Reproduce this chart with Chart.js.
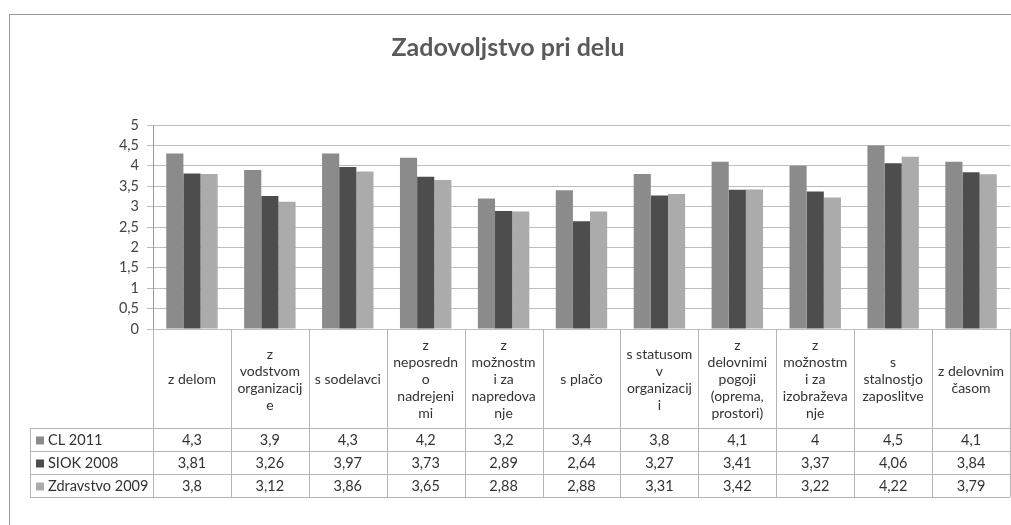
<!DOCTYPE html>
<html lang="sl">
<head>
<meta charset="UTF-8">
<title>Zadovoljstvo pri delu</title>
<script src="https://cdn.jsdelivr.net/npm/chart.js"></script>
<style>
  html,body{margin:0;padding:0;background:#fff}
  #wrap{width:1011px;height:525px;position:relative}
</style>
</head>
<body>
<div id="wrap"><canvas id="chart" width="1011" height="525"></canvas></div>
<script>
/* ---- podatki ---- */
const categories = [
  ['z delom'],
  ['z','vodstvom','organizacij','e'],
  ['s sodelavci'],
  ['z','neposredn','o','nadrejeni','mi'],
  ['z','možnostm','i za','napredova','nje'],
  ['s plačo'],
  ['s statusom','v','organizacij','i'],
  ['z','delovnimi','pogoji','(oprema,','prostori)'],
  ['z','možnostm','i za','izobraževa','nje'],
  ['s','stalnostjo','zaposlitve'],
  ['z delovnim','časom']
];
const seriesNames = ['CL 2011', 'SIOK 2008', 'Zdravstvo 2009'];
const cl2011    = [4.3, 3.9, 4.3, 4.2, 3.2, 3.4, 3.8, 4.1, 4, 4.5, 4.1];
const siok2008  = [3.81, 3.26, 3.97, 3.73, 2.89, 2.64, 3.27, 3.41, 3.37, 4.06, 3.84];
const zdrav2009 = [3.8, 3.12, 3.86, 3.65, 2.88, 2.88, 3.31, 3.42, 3.22, 4.22, 3.79];
const yTicks = [0, 0.5, 1, 1.5, 2, 2.5, 3, 3.5, 4, 4.5, 5];

const colors = ['#8b8b8b', '#4d4d4d', '#ababab'];
const FONT = 'Lato, "Liberation Sans", sans-serif';
const fmt = v => String(v).replace('.', ',');

/* ---- naslov, okvir in podatkovna tabela ---- */
const tablePlugin = {
  id: 'tablePlugin',
  beforeDraw(chart){
    const c = chart.ctx;
    c.save();
    c.fillStyle = '#fff';
    c.fillRect(0, 0, chart.width, chart.height);
    c.strokeStyle = '#9a9a9a';
    c.lineWidth = 1;
    c.strokeRect(9.5, 14.5, chart.width + 20, chart.height + 20);
    c.restore();
  },
  afterDraw(chart){
    const c = chart.ctx;
    const x = chart.scales.x;
    const area = chart.chartArea;
    const n = categories.length;
    const w = (area.right - area.left) / n;
    const top = area.bottom;
    const headBottom = top + 99;
    const rowH = 23;
    const bottom = headBottom + rowH * 3;
    const legLeft = 30;

    c.save();
    // naslov
    c.fillStyle = '#5a5a5a';
    c.font = 'bold 25px ' + FONT;
    c.textAlign = 'center';
    c.textBaseline = 'middle';
    c.fillText('Zadovoljstvo pri delu', 508, 48);

    // mreža tabele
    c.strokeStyle = '#b5b5b5';
    c.lineWidth = 1;
    c.beginPath();
    for(let i = 0; i <= n; i++){
      const px = Math.round(area.left + i * w) + 0.5;
      c.moveTo(px, top); c.lineTo(px, bottom);
    }
    for(let r = 0; r <= 3; r++){
      const py = headBottom + r * rowH + 0.5;
      c.moveTo(legLeft, py); c.lineTo(area.right, py);
    }
    c.moveTo(legLeft + 0.5, headBottom); c.lineTo(legLeft + 0.5, bottom);
    c.stroke();

    // glave stolpcev
    c.fillStyle = '#333';
    c.font = '14px ' + FONT;
    const lh = 17;
    const midHead = (top + headBottom) / 2 + 1;
    categories.forEach((lines, i) => {
      const cx = x.getPixelForValue(i);
      const y0 = midHead - (lines.length - 1) * lh / 2;
      lines.forEach((t, k) => c.fillText(t, cx, y0 + k * lh));
    });

    // vrstice z vrednostmi
    const rows = [cl2011, siok2008, zdrav2009];
    c.font = '14.5px ' + FONT;
    rows.forEach((vals, r) => {
      const cy = headBottom + r * rowH + rowH / 2 + 1;
      c.fillStyle = colors[r];
      c.fillRect(legLeft + 6, cy - 4, 8, 8);
      c.fillStyle = '#333';
      c.textAlign = 'left';
      c.fillText(seriesNames[r], legLeft + 18, cy);
      c.textAlign = 'center';
      vals.forEach((v, i) => c.fillText(fmt(v), x.getPixelForValue(i), cy));
    });
    c.restore();
  }
};

new Chart(document.getElementById('chart'), {
  type: 'bar',
  data: {
    labels: categories,
    datasets: [
      {label: seriesNames[0], data: cl2011,    backgroundColor: colors[0]},
      {label: seriesNames[1], data: siok2008,  backgroundColor: colors[1]},
      {label: seriesNames[2], data: zdrav2009, backgroundColor: colors[2]}
    ]
  },
  options: {
    responsive: false,
    animation: false,
    devicePixelRatio: 1,
    layout: {padding: {top: 125, bottom: 196, left: 0, right: 1}},
    datasets: {bar: {barPercentage: 1, categoryPercentage: 0.66, borderWidth: 0}},
    plugins: {legend: {display: false}, tooltip: {enabled: false}, title: {display: false}},
    scales: {
      x: {display: false},
      y: {
        min: 0, max: 5,
        afterFit(s){ s.width = 153; },
        afterBuildTicks(s){ s.ticks = yTicks.map(v => ({value: v})); },
        ticks: {
          callback: v => fmt(v),
          color: '#444',
          font: {family: FONT, size: 14.5},
          padding: 8
        },
        grid: {color: '#bdbdbd', tickLength: 6},
        border: {display: true, color: '#9a9a9a'}
      }
    }
  },
  plugins: [tablePlugin]
});
</script>
</body>
</html>
